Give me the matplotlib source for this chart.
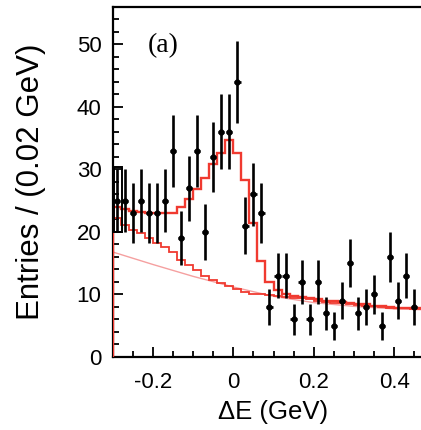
import numpy as np
import matplotlib
matplotlib.use("Agg")
import matplotlib.pyplot as plt
from matplotlib.patches import Rectangle

plt.rcParams["font.family"] = ["Liberation Sans", "DejaVu Sans"]

# Delta E distribution, 0.02 GeV bins starting at -0.3 GeV
bin_lo = -0.30
bin_width = 0.02

counts = [25, 25, 23, 25, 23, 23, 25, 33, 19, 27,
          33, 20, 32, 36, 36, 44, 21, 26, 23, 8,
          13, 13, 6, 12, 6, 12, 7, 5, 9, 15,
          7, 8, 10, 5, 16, 9, 13, 8]

# fit result: total (signal + background) per bin
fit_total = [24.0, 23.6, 23.3, 23.2, 23.1, 23.0, 23.0, 23.1, 24.0, 25.3,
             26.8, 28.6, 30.8, 32.7, 34.7, 32.6, 28.3, 21.4, 15.3, 12.0,
             10.7, 10.1, 9.8, 9.6, 9.4, 9.2, 9.0, 8.9, 8.8, 8.6,
             8.5, 8.4, 8.2, 8.1, 8.0, 7.9, 7.9, 7.8, 7.8, 7.7]

# background component per bin
fit_bkg = [22.2, 21.1, 20.3, 19.8, 19.0, 18.3, 17.6, 16.8, 15.5, 14.7,
           13.9, 13.0, 12.3, 11.8, 11.4, 10.8, 10.4, 10.1, 10.0, 9.9,
           9.7, 9.6, 9.5, 9.4, 9.2, 9.0, 8.8, 8.7, 8.6, 8.4,
           8.3, 8.2, 8.1, 8.0, 7.9, 7.8, 7.8, 7.7, 7.7, 7.6]

# smooth continuum curve
curve_x = [-0.30, -0.20, -0.10, 0.00, 0.10, 0.20, 0.30, 0.40, 0.50]
curve_y = [16.8, 14.8, 12.9, 11.2, 9.7, 8.7, 8.1, 7.7, 7.5]

red = "#f03a30"

fig = plt.figure(figsize=(4.21, 4.30), dpi=100)
ax = fig.add_axes([0.2677, 0.1698, 0.7639, 0.8140])

n_fit = len(fit_total)
edges = bin_lo + bin_width * np.arange(n_fit + 1)
centers = bin_lo + bin_width * (np.arange(len(counts)) + 0.5)

ax.plot(curve_x, curve_y, color="#f5a0a0", lw=1.0, zorder=2)
ax.stairs(fit_bkg, edges, baseline=0, color=red, lw=1.3, zorder=3)
ax.stairs(fit_total, edges, baseline=0, color=red, lw=1.7, zorder=3)

ax.errorbar(centers, counts, yerr=np.sqrt(counts), xerr=0.008,
            fmt="o", ms=3.5, color="black", ecolor="black",
            elinewidth=1.9, capsize=0, zorder=4)

# first bin outline
ax.add_patch(Rectangle((-0.296, 20.0), 0.018, 10.4, fill=False,
                       edgecolor="black", lw=1.4, zorder=4))

ax.set_xlim(-0.3, 0.5)
ax.set_ylim(0, 56)

ax.set_xticks([-0.2, 0, 0.2, 0.4])
ax.set_xticklabels(["-0.2", "0", "0.2", "0.4"])
ax.set_xticks(np.arange(-0.25, 0.5, 0.05), minor=True)
ax.set_yticks(np.arange(0, 51, 10))
ax.set_yticks(np.arange(0, 56, 2), minor=True)

ax.tick_params(which="both", direction="in", top=False, right=False,
               width=1.3, labelsize=16)
ax.tick_params(axis="y", pad=8)
ax.tick_params(axis="x", pad=11)
ax.tick_params(which="major", length=7)
ax.tick_params(which="minor", length=4.5)

for side in ["left", "bottom", "top"]:
    ax.spines[side].set_linewidth(1.6)
ax.spines["right"].set_visible(False)

ax.set_ylabel("Entries / (0.02 GeV)", fontsize=22.5, labelpad=22)
ax.set_xlabel("\u0394E (GeV)", fontsize=18.5, labelpad=5)

ax.text(0.156, 0.891, "(a)", transform=ax.transAxes, ha="center",
        va="center", fontsize=20, family="Liberation Serif")

plt.savefig("out.png", dpi=100)
plt.close()
